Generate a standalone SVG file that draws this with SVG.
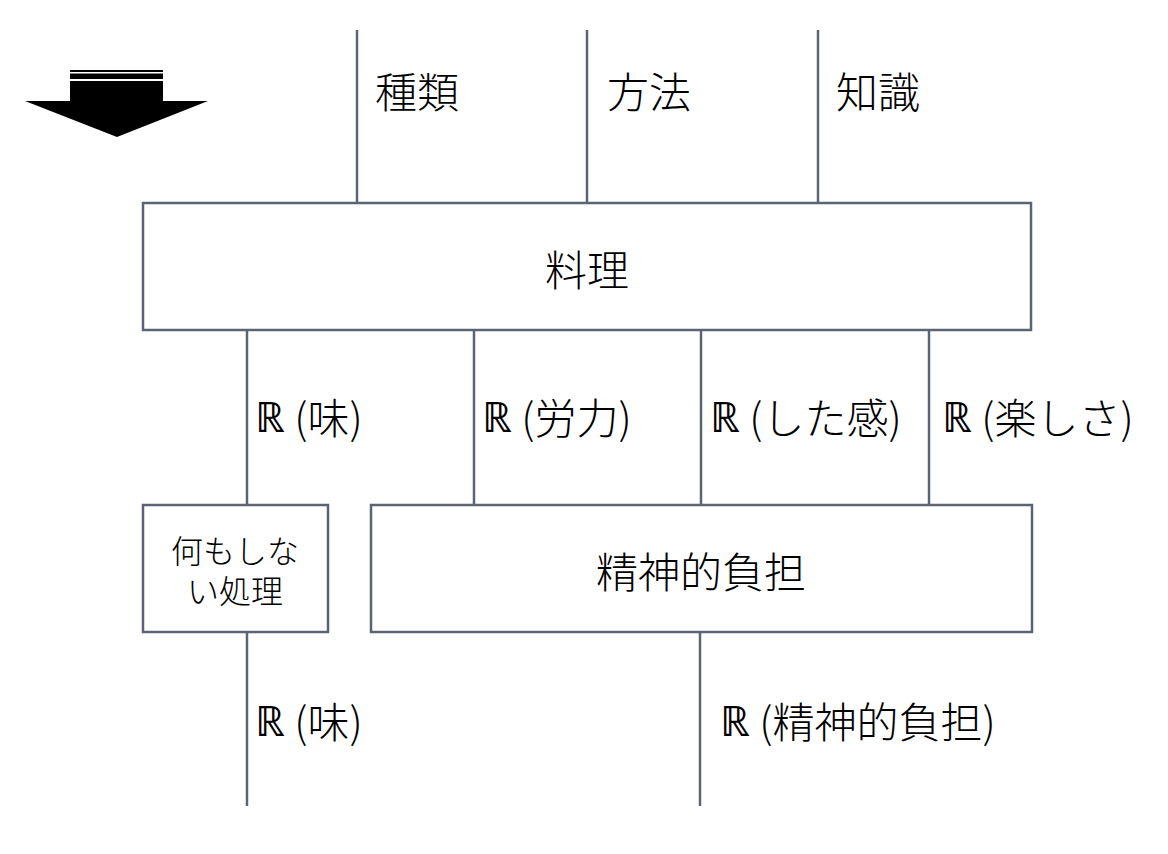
<svg xmlns="http://www.w3.org/2000/svg" width="1168" height="854" viewBox="0 0 1168 854">
<style>
.bx{fill:#fff;stroke:#5a6474;stroke-width:2.5}
.ln{stroke:#5a6474;stroke-width:2.5;fill:none}
text{font-family:"Noto Sans CJK JP","DejaVu Sans",sans-serif;font-weight:300;fill:#000;dominant-baseline:central}
.lb{font-size:42px}
.r{font-family:"Noto Sans","DejaVu Sans",sans-serif;font-weight:300}
.bt{font-size:42px;text-anchor:middle}
.sm{font-size:32px;text-anchor:middle}
</style>
<rect width="1168" height="854" fill="#fff"/>
<g id="arrow">
<rect x="70" y="70" width="93" height="2" fill="#000"/>
<rect x="70" y="73.5" width="93" height="5.5" fill="#000"/>
<polygon points="70,81 163,81 163,101 208,101 117,137 25,101 70,101" fill="#000"/>
</g>
<g id="connectors">
<line class="ln" x1="357" y1="30" x2="357" y2="203"/>
<line class="ln" x1="587" y1="30" x2="587" y2="203"/>
<line class="ln" x1="818" y1="30" x2="818" y2="203"/>
<line class="ln" x1="247" y1="330" x2="247" y2="505"/>
<line class="ln" x1="474" y1="330" x2="474" y2="505"/>
<line class="ln" x1="701" y1="330" x2="701" y2="505"/>
<line class="ln" x1="929" y1="330" x2="929" y2="505"/>
<line class="ln" x1="247" y1="632" x2="247" y2="806"/>
<line class="ln" x1="700" y1="632" x2="700" y2="806"/>
</g>
<g id="labels">
<text class="lb" x="375" y="89">種類</text>
<text class="lb" x="607" y="89">方法</text>
<text class="lb" x="836" y="89">知識</text>
<text class="lb" x="255" y="415"><tspan class="r">ℝ</tspan> (味)</text>
<text class="lb" x="482" y="415"><tspan class="r">ℝ</tspan> (労力)</text>
<text class="lb" x="710" y="415"><tspan class="r">ℝ</tspan> (した感)</text>
<text class="lb" x="942" y="415"><tspan class="r">ℝ</tspan> (楽しさ)</text>
<text class="lb" x="255" y="719"><tspan class="r">ℝ</tspan> (味)</text>
<text class="lb" x="720" y="719"><tspan class="r">ℝ</tspan> (精神的負担)</text>
</g>
<g id="node-ryori">
<rect class="bx" x="143" y="203" width="888" height="127"/>
<text class="bt" x="587" y="267">料理</text>
</g>
<g id="node-nanimo">
<rect class="bx" x="143" y="505" width="185" height="127"/>
<text class="sm"><tspan x="235" y="549">何もしな</tspan><tspan x="235" y="589">い処理</tspan></text>
</g>
<g id="node-seishin">
<rect class="bx" x="371" y="505" width="661" height="127"/>
<text class="bt" x="701" y="569">精神的負担</text>
</g>
</svg>
